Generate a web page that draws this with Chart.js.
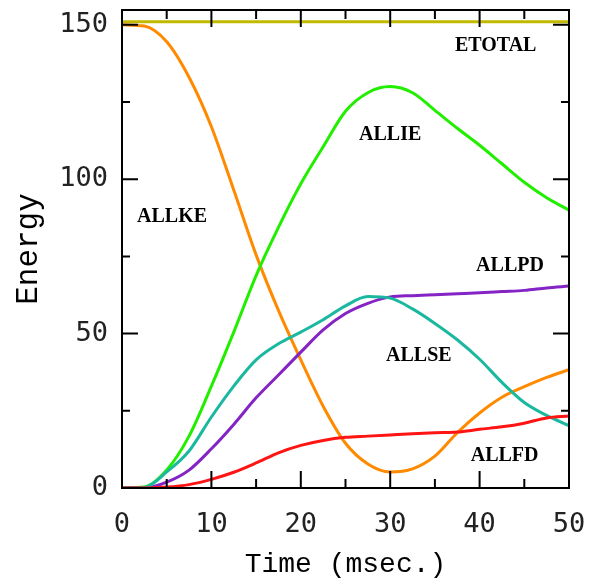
<!DOCTYPE html>
<html>
<head>
<meta charset="utf-8">
<script src="https://cdn.jsdelivr.net/npm/chart.js@4/dist/chart.umd.min.js"></script>
<style>
  html, body { margin: 0; padding: 0; background: #fff; }
  #contenedor { width: 589px; height: 584px; }
</style>
</head>
<body>
<div id="contenedor"><canvas id="grafico"></canvas></div>
<script>
// tiempo en msec.
const tiempo = [0, 2.5, 5, 7.5, 10, 12.5, 15, 17.5, 20, 22.5, 25, 27.5, 30, 32.5, 35, 37.5, 40, 42.5, 45, 47.5, 50];

const etotal = [151, 151, 151, 151, 151, 151, 151, 151, 151, 151, 151, 151, 151, 151, 151, 151, 151, 151, 151, 151, 151];
const allke  = [150, 149.6, 144.5, 133, 117, 96.5, 75.5, 57.5, 41.5, 26.5, 14.5, 7.8, 5.2, 6.2, 10.3, 17.9, 24.3, 29.4, 32.8, 35.8, 38.3];
const allie  = [0, 0.3, 5.8, 16.8, 33, 50.5, 68.8, 84.4, 98.5, 110.5, 122, 128, 130, 128, 122.3, 116.5, 111, 105, 99, 94, 90];
const allse  = [0, 0.2, 5.2, 12, 23, 33, 41.5, 46.7, 50.5, 54.5, 59, 62, 61.5, 58, 53.3, 48, 41.7, 34.2, 27.7, 23.5, 20.2];
const allpd  = [0, 0, 1.9, 5.8, 12.7, 20.6, 29.2, 36.6, 44, 51.2, 56.5, 59.8, 61.9, 62.3, 62.6, 62.9, 63.2, 63.6, 64, 64.8, 65.4];
const allfd  = [0, 0, 0.3, 1.1, 2.8, 5.1, 8.1, 11.4, 13.8, 15.4, 16.4, 16.8, 17.2, 17.6, 17.9, 18.1, 19, 19.8, 21, 22.7, 23.3];

const ticksTiempo = [0, 10, 20, 30, 40, 50];
const ticksTiempoMenor = [5, 15, 25, 35, 45];
const ticksEnergia = [0, 50, 100, 150];
const ticksEnergiaMenor = [25, 75, 125];

// etiquetas dentro del grafico: [texto, tiempo, energia]
const etiquetas = [
  ['ETOTAL', 41.8, 143.2],
  ['ALLIE', 30, 114.4],
  ['ALLKE', 5.6, 87.8],
  ['ALLPD', 43.4, 71.9],
  ['ALLSE', 33.2, 42.8],
  ['ALLFD', 42.8, 10.4]
];

const puntos = (valores) => valores.map((v, i) => ({ x: tiempo[i], y: v }));

const serie = (nombre, valores, color) => ({
  label: nombre,
  data: puntos(valores),
  borderColor: color,
  borderWidth: 3,
  pointRadius: 0,
  fill: false,
  cubicInterpolationMode: 'monotone'
});

// marco y marcas hacia dentro en los cuatro lados
const marco = {
  id: 'marco',
  afterDraw(chart) {
    const ctx = chart.ctx;
    const a = chart.chartArea;
    const sx = chart.scales.x;
    const sy = chart.scales.y;
    ctx.save();
    ctx.strokeStyle = '#000';
    ctx.lineWidth = 2;
    ctx.strokeRect(a.left, a.top, a.right - a.left, a.bottom - a.top);
    ctx.beginPath();
    const marcaX = (v, largo) => {
      const px = sx.getPixelForValue(v);
      ctx.moveTo(px, a.bottom); ctx.lineTo(px, a.bottom - largo);
      ctx.moveTo(px, a.top); ctx.lineTo(px, a.top + largo);
    };
    const marcaY = (v, largo) => {
      const py = sy.getPixelForValue(v);
      ctx.moveTo(a.left, py); ctx.lineTo(a.left + largo, py);
      ctx.moveTo(a.right, py); ctx.lineTo(a.right - largo, py);
    };
    ticksTiempo.forEach(v => marcaX(v, 17));
    ticksTiempoMenor.forEach(v => marcaX(v, 9));
    ticksEnergia.forEach(v => marcaY(v, 16));
    ticksEnergiaMenor.forEach(v => marcaY(v, 8));
    ctx.stroke();

    ctx.fillStyle = '#000';
    ctx.font = 'bold 20px "Liberation Serif"';
    ctx.textAlign = 'center';
    ctx.textBaseline = 'middle';
    etiquetas.forEach(([t, x, y]) => {
      ctx.fillText(t, sx.getPixelForValue(x), sy.getPixelForValue(y));
    });
    ctx.restore();
  }
};

const fuenteTicks = { family: '"DejaVu Sans Mono", monospace', size: 27 };

new Chart(document.getElementById('grafico'), {
  type: 'line',
  data: {
    datasets: [
      serie('ALLFD', allfd, '#ff1414'),
      serie('ALLSE', allse, '#1bb8a0'),
      serie('ALLPD', allpd, '#8424c4'),
      serie('ALLIE', allie, '#22ee00'),
      serie('ALLKE', allke, '#ff8a00'),
      serie('ETOTAL', etotal, '#c2ba00')
    ]
  },
  options: {
    responsive: true,
    maintainAspectRatio: false,
    animation: false,
    layout: { padding: { top: 10, right: 20, bottom: 0, left: 0 } },
    plugins: { legend: { display: false }, tooltip: { enabled: false } },
    scales: {
      x: {
        type: 'linear',
        min: 0,
        max: 50,
        grid: { display: false, drawTicks: false },
        border: { display: false },
        ticks: { color: '#222', font: fuenteTicks, padding: 21, maxRotation: 0 },
        afterBuildTicks: (s) => { s.ticks = ticksTiempo.map(v => ({ value: v })); },
        afterFit: (s) => { s.height = 96; s.paddingLeft = 0; s.paddingRight = 0; },
        title: { display: true, text: 'Time (msec.)', color: '#000', font: { family: '"Liberation Mono", monospace', size: 28 }, padding: { bottom: 3 } }
      },
      y: {
        min: 0,
        max: 154.8,
        grid: { display: false, drawTicks: false },
        border: { display: false },
        ticks: { color: '#222', font: fuenteTicks, padding: 14 },
        afterBuildTicks: (s) => { s.ticks = ticksEnergia.map(v => ({ value: v })); },
        afterFit: (s) => { s.width = 122; s.paddingTop = 0; s.paddingBottom = 0; },
        title: { display: true, text: 'Energy', color: '#000', font: { family: '"Liberation Mono", monospace', size: 31 }, padding: { top: 10 } }
      }
    }
  },
  plugins: [marco]
});
</script>
</body>
</html>
